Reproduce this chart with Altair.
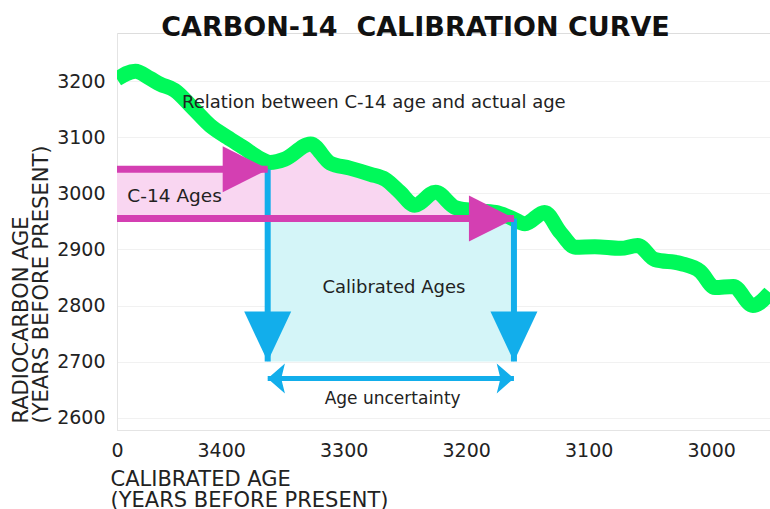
import altair as alt
import pandas as pd

# Calibration curve: calibrated age (years BP) vs radiocarbon age (years BP)
cal_age = [3485, 3470, 3458, 3450, 3438, 3423, 3409, 3395, 3382, 3368, 3360,
           3348, 3327, 3311, 3295, 3278, 3266, 3254, 3242, 3225, 3209, 3197,
           3176, 3164, 3152, 3136, 3123, 3111, 3095, 3074, 3060, 3046, 3025,
           3009, 2997, 2982, 2966, 2952]
c14_age = [3204, 3218, 3205, 3195, 3184, 3152, 3121, 3100, 3082, 3062, 3055,
           3061, 3088, 3054, 3045, 3034, 3025, 3002, 2979, 3002, 2975, 2970,
           2966, 2957, 2946, 2966, 2930, 2904, 2905, 2902, 2907, 2882, 2875,
           2861, 2832, 2834, 2800, 2823]

# Measured radiocarbon age range and the calibrated range it maps to
c14_high, c14_low = 3043, 2955
cal_old, cal_young = 3362, 3161
arrow_base = 2700
uncertainty_level = 2670

# Axes
x_domain = [2952, 3485]
y_domain = [2578, 3286]
x_tick_values = [3485, 3400, 3300, 3200, 3100, 3000]
x_tick_labels = ["0", "3400", "3300", "3200", "3100", "3000"]
y_tick_values = [2600, 2700, 2800, 2900, 3000, 3100, 3200]

# Annotations
note_text = ["Relation between C-14 age and actual age", "C-14 Ages",
             "Calibrated Ages", "Age uncertainty"]
note_x = [3432, 3438, 3259, 3260]
note_y = [3161, 2996, 2832, 2634]
note_align = ["left", "center", "center", "center"]
note_size = [18, 18.5, 18, 17]

GREEN = "#00F95A"
MAGENTA = "#D43FB2"
PINK = "#F9D6F1"
BLUE = "#12AEEB"
CYAN = "#D4F5F8"
FONT = "DejaVu Sans"
INK = "#222222"

curve = pd.DataFrame({"cal": cal_age, "c14": c14_age})

# Pink band: C-14 range, bounded above by the curve past the first crossing
pink_cal = [x_domain[1], cal_old + 0.5]
pink_top = [c14_high, c14_high]
for a, c in zip(cal_age, c14_age):
    if cal_young < a <= cal_old:
        pink_cal.append(a)
        pink_top.append(c)
pink_cal.insert(2, cal_old)
pink_top.insert(2, 3058)
pink_cal.append(cal_young)
pink_top.append(c14_low)
pink = pd.DataFrame({"cal": pink_cal, "top": pink_top, "base": c14_low})

label_map = "{" + ",".join(f"'{v}':'{l}'" for v, l in zip(x_tick_values, x_tick_labels)) + "}"

x_scale = alt.Scale(domain=x_domain, reverse=True, nice=False, zero=False)
y_scale = alt.Scale(domain=y_domain, nice=False, zero=False)

x_axis = alt.Axis(
    values=x_tick_values, labelExpr=f"{label_map}[datum.value]",
    grid=False, ticks=False, domainColor="#e4e4e4", labelPadding=11,
    labelFont=FONT, labelFontSize=19, labelColor=INK, labelFlush=False,
    labelOverlap=False,
    title=["CALIBRATED AGE", "(YEARS BEFORE PRESENT)"],
    titleFont=FONT, titleFontSize=21, titleFontWeight="normal", titleColor=INK,
    titleAlign="left", titleAnchor="start", titleBaseline="alphabetic",
    titleX=-7, titleY=55, titleLineHeight=21,
)
y_axis = alt.Axis(
    values=y_tick_values, format="d", grid=True, gridColor="#f1f1f1",
    ticks=False, domainColor="#e4e4e4", labelPadding=12,
    labelFont=FONT, labelFontSize=19, labelColor=INK,
    title=["RADIOCARBON AGE", "(YEARS BEFORE PRESENT)"],
    titleFont=FONT, titleFontSize=21, titleFontWeight="normal", titleColor=INK,
    titleAngle=270, titleAlign="left", titleBaseline="alphabetic",
    titleX=-90, titleY=390, titleLineHeight=20,
)

X = lambda f: alt.X(f, type="quantitative", scale=x_scale, axis=x_axis)
Y = lambda f: alt.Y(f, type="quantitative", scale=y_scale, axis=y_axis)

pink_area = alt.Chart(pink).mark_area(color=PINK, opacity=1).encode(
    x=X("cal"), y=Y("top"), y2="base")

box = pd.DataFrame({"x1": [cal_old], "x2": [cal_young], "y1": [c14_low], "y2": [arrow_base]})
cyan_box = alt.Chart(box).mark_rect(color=CYAN).encode(
    x=X("x1"), x2="x2", y=Y("y1"), y2="y2")

green = alt.Chart(curve).mark_line(
    color=GREEN, strokeWidth=15, interpolate="monotone", strokeCap="butt",
    strokeJoin="round", clip=True).encode(x=X("cal"), y=Y("c14"))

# Blue arrows: down from the curve crossings, and the double-headed span
vlines = pd.DataFrame({"cal": [cal_old, cal_young], "top": [c14_high, c14_low],
                       "bottom": [arrow_base, arrow_base]})
blue_lines = alt.Chart(vlines).mark_rule(color=BLUE, strokeWidth=6).encode(
    x=X("cal"), y=Y("top"), y2="bottom")
blue_heads = alt.Chart(vlines).mark_point(
    shape="M-0.94,-1L0.94,-1L0,1Z", size=2500, filled=True, color=BLUE,
    opacity=1, yOffset=-25).encode(x=X("cal"), y=Y("bottom"))

span = pd.DataFrame({"a": [cal_old], "b": [cal_young], "y": [uncertainty_level]})
span_line = alt.Chart(span).mark_rule(color=BLUE, strokeWidth=5).encode(
    x=X("a"), x2="b", y=Y("y"))
span_left = alt.Chart(span).mark_point(
    shape="M-1,0L0.15,-1L-0.1,0L0.15,1Z", size=900, filled=True, color=BLUE,
    opacity=1, xOffset=15).encode(x=X("a"), y=Y("y"))
span_right = alt.Chart(span).mark_point(
    shape="M1,0L-0.15,-1L0.1,0L-0.15,1Z", size=900, filled=True, color=BLUE,
    opacity=1, xOffset=-15).encode(x=X("b"), y=Y("y"))

# Magenta arrows: the measured C-14 range pointing at the curve
hlines = pd.DataFrame({"start": [x_domain[1], x_domain[1]], "end": [cal_old, cal_young],
                       "c14": [c14_high, c14_low]})
mag_lines = alt.Chart(hlines).mark_rule(color=MAGENTA, strokeWidth=7).encode(
    x=X("start"), x2="end", y=Y("c14"))
mag_heads = alt.Chart(hlines).mark_point(
    shape="M-1,-1L1,0L-1,1Z", size=2116, filled=True, color=MAGENTA,
    opacity=1, xOffset=-22).encode(x=X("end"), y=Y("c14"))

notes = pd.DataFrame({"text": note_text, "cal": note_x, "c14": note_y,
                      "align": note_align, "size": note_size})
note_layers = []
for _, row in notes.iterrows():
    note_layers.append(
        alt.Chart(notes[notes.text == row.text]).mark_text(
            font=FONT, fontSize=row["size"], color=INK, align=row["align"],
            baseline="middle").encode(x=X("cal"), y=Y("c14"), text="text"))

chart = alt.layer(
    pink_area, cyan_box, green, blue_lines, blue_heads, span_line, span_left,
    span_right, mag_lines, mag_heads, *note_layers,
).properties(
    width=653, height=397,
    autosize=alt.AutoSizeParams(type="none"),
    padding={"left": 117, "top": 33, "right": 0, "bottom": 79},
    title=alt.TitleParams(
        "CARBON-14\u00a0 CALIBRATION CURVE", font=FONT, fontSize=27,
        fontWeight="bold", color="#111111", anchor="middle", frame="group",
        dx=-28, offset=0, dy=30, baseline="alphabetic"),
).configure_view(stroke=None).configure(background="white")

chart.save("out.html", embed_options={"renderer": "svg", "actions": False})
